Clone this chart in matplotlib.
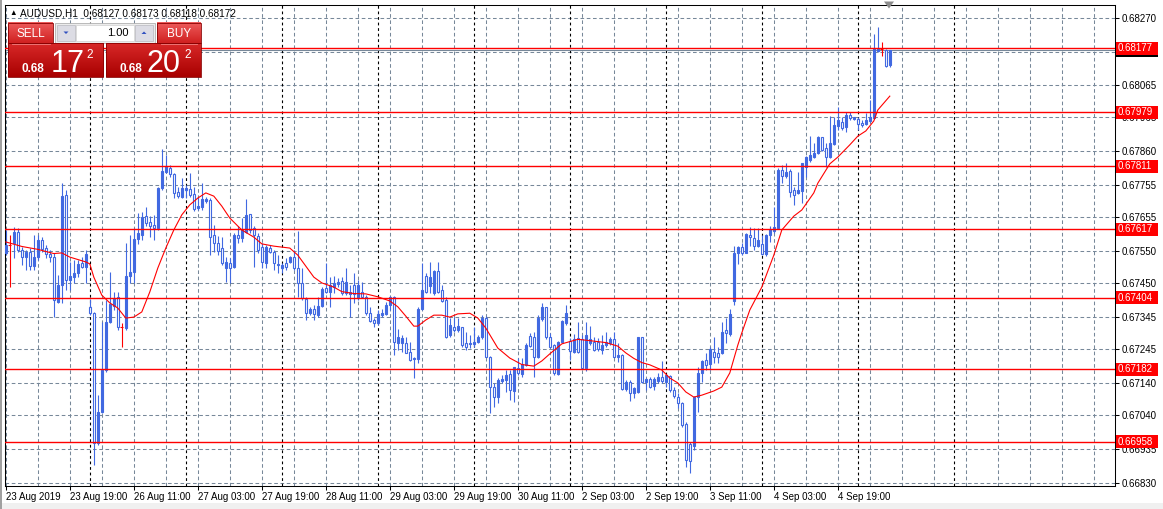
import matplotlib
matplotlib.use('Agg')
import matplotlib.pyplot as plt
import matplotlib.transforms as mtransforms
from matplotlib.patches import Rectangle, Polygon
from matplotlib.colors import LinearSegmentedColormap
import numpy as np

plt.rcParams['font.family'] = ['Liberation Sans', 'DejaVu Sans']

# AUDUSD H1 candles, 23 Aug 2019 03:00 .. 5 Sep 2019
opens = [
    0.67542, 0.67567, 0.67573, 0.67609, 0.67552, 0.67529, 0.67547, 0.67502, 0.67531, 0.67583,
    0.67557, 0.67540, 0.67531, 0.67392, 0.67443, 0.67722, 0.67459, 0.67469, 0.67480, 0.67513,
    0.67498, 0.67374, 0.67356, 0.66953, 0.67051, 0.67180, 0.67330, 0.67379, 0.67405, 0.67312,
    0.67309, 0.67471, 0.67485, 0.67585, 0.67598, 0.67657, 0.67640, 0.67630, 0.67621, 0.67743,
    0.67795, 0.67805, 0.67787, 0.67733, 0.67717, 0.67738, 0.67740, 0.67725, 0.67681, 0.67686,
    0.67705, 0.67707, 0.67598, 0.67573, 0.67557, 0.67496, 0.67513, 0.67498, 0.67598, 0.67588,
    0.67609, 0.67663, 0.67619, 0.67595, 0.67562, 0.67513, 0.67557, 0.67547, 0.67506, 0.67495,
    0.67513, 0.67516, 0.67531, 0.67495, 0.67449, 0.67399, 0.67356, 0.67368, 0.67350, 0.67378,
    0.67433, 0.67423, 0.67436, 0.67447, 0.67456, 0.67420, 0.67416, 0.67443, 0.67402, 0.67421,
    0.67407, 0.67356, 0.67335, 0.67325, 0.67350, 0.67354, 0.67382, 0.67405, 0.67265, 0.67265,
    0.67265, 0.67237, 0.67213, 0.67213, 0.67368, 0.67471, 0.67440, 0.67418, 0.67487, 0.67428,
    0.67397, 0.67288, 0.67314, 0.67304, 0.67312, 0.67265, 0.67261, 0.67261, 0.67268, 0.67281,
    0.67340, 0.67221, 0.67128, 0.67097, 0.67147, 0.67149, 0.67168, 0.67116, 0.67185, 0.67168,
    0.67196, 0.67285, 0.67281, 0.67219, 0.67337, 0.67374, 0.67281, 0.67258, 0.67168, 0.67268,
    0.67327, 0.67271, 0.67237, 0.67278, 0.67275, 0.67185, 0.67265, 0.67268, 0.67268, 0.67242,
    0.67258, 0.67265, 0.67275, 0.67219, 0.67226, 0.67120, 0.67144, 0.67108, 0.67113, 0.67281,
    0.67144, 0.67151, 0.67130, 0.67147, 0.67159, 0.67144, 0.67161, 0.67118, 0.67097, 0.67079,
    0.67013, 0.66951, 0.66944, 0.67097, 0.67170, 0.67211, 0.67199, 0.67237, 0.67234, 0.67232,
    0.67304, 0.67292, 0.67395, 0.67544, 0.67560, 0.67544, 0.67598, 0.67588, 0.67564, 0.67571,
    0.67540, 0.67598, 0.67612, 0.67619, 0.67800, 0.67781, 0.67798, 0.67738, 0.67730, 0.67736,
    0.67810, 0.67831, 0.67839, 0.67852, 0.67901, 0.67867, 0.67839, 0.67881, 0.67936, 0.67950,
    0.67932, 0.67970, 0.67957, 0.67957, 0.67945, 0.67943, 0.67953, 0.67960, 0.68170, 0.68174,
    0.68172, 0.68127,
]
highs = [
    0.67614, 0.67598, 0.67624, 0.67619, 0.67562, 0.67552, 0.67557, 0.67598, 0.67598, 0.67593,
    0.67567, 0.67552, 0.67542, 0.67474, 0.67761, 0.67738, 0.67516, 0.67521, 0.67521, 0.67531,
    0.67552, 0.67399, 0.67361, 0.67102, 0.67330, 0.67397, 0.67485, 0.67423, 0.67423, 0.67327,
    0.67573, 0.67598, 0.67619, 0.67666, 0.67671, 0.67686, 0.67657, 0.67661, 0.67748, 0.67864,
    0.67847, 0.67816, 0.67790, 0.67748, 0.67774, 0.67754, 0.67790, 0.67748, 0.67717, 0.67759,
    0.67717, 0.67712, 0.67630, 0.67595, 0.67593, 0.67531, 0.67526, 0.67604, 0.67626, 0.67650,
    0.67709, 0.67663, 0.67626, 0.67604, 0.67573, 0.67567, 0.67567, 0.67552, 0.67536, 0.67511,
    0.67526, 0.67533, 0.67552, 0.67612, 0.67495, 0.67407, 0.67376, 0.67382, 0.67407, 0.67438,
    0.67513, 0.67469, 0.67471, 0.67464, 0.67469, 0.67495, 0.67443, 0.67482, 0.67459, 0.67454,
    0.67413, 0.67376, 0.67340, 0.67366, 0.67368, 0.67392, 0.67409, 0.67409, 0.67306, 0.67288,
    0.67283, 0.67268, 0.67221, 0.67376, 0.67511, 0.67482, 0.67516, 0.67490, 0.67516, 0.67443,
    0.67407, 0.67340, 0.67345, 0.67341, 0.67314, 0.67299, 0.67288, 0.67314, 0.67288, 0.67350,
    0.67347, 0.67223, 0.67139, 0.67154, 0.67165, 0.67180, 0.67180, 0.67190, 0.67216, 0.67216,
    0.67263, 0.67296, 0.67299, 0.67350, 0.67389, 0.67376, 0.67294, 0.67261, 0.67271, 0.67335,
    0.67382, 0.67278, 0.67292, 0.67330, 0.67288, 0.67330, 0.67316, 0.67283, 0.67278, 0.67288,
    0.67299, 0.67283, 0.67299, 0.67263, 0.67230, 0.67149, 0.67149, 0.67128, 0.67283, 0.67283,
    0.67154, 0.67159, 0.67159, 0.67170, 0.67209, 0.67168, 0.67165, 0.67128, 0.67108, 0.67082,
    0.67020, 0.66958, 0.67099, 0.67190, 0.67211, 0.67232, 0.67250, 0.67281, 0.67252, 0.67330,
    0.67340, 0.67368, 0.67564, 0.67564, 0.67575, 0.67606, 0.67622, 0.67619, 0.67619, 0.67598,
    0.67602, 0.67626, 0.67686, 0.67805, 0.67816, 0.67821, 0.67802, 0.67746, 0.67795, 0.67823,
    0.67843, 0.67905, 0.67885, 0.67905, 0.67903, 0.67885, 0.67967, 0.67965, 0.67994, 0.67965,
    0.67981, 0.67981, 0.67965, 0.67963, 0.67955, 0.67978, 0.68017, 0.68222, 0.68244, 0.68198,
    0.68174, 0.68173,
]
lows = [
    0.67536, 0.67438, 0.67526, 0.67547, 0.67506, 0.67490, 0.67490, 0.67490, 0.67521, 0.67547,
    0.67526, 0.67516, 0.67345, 0.67387, 0.67387, 0.67428, 0.67428, 0.67449, 0.67469, 0.67495,
    0.67449, 0.67350, 0.66886, 0.66948, 0.67046, 0.67175, 0.67325, 0.67366, 0.67304, 0.67250,
    0.67304, 0.67449, 0.67449, 0.67571, 0.67583, 0.67626, 0.67593, 0.67583, 0.67614, 0.67738,
    0.67790, 0.67779, 0.67712, 0.67712, 0.67712, 0.67712, 0.67717, 0.67674, 0.67676, 0.67676,
    0.67697, 0.67536, 0.67547, 0.67536, 0.67506, 0.67453, 0.67449, 0.67495, 0.67573, 0.67578,
    0.67606, 0.67604, 0.67498, 0.67542, 0.67495, 0.67495, 0.67542, 0.67490, 0.67482, 0.67480,
    0.67490, 0.67511, 0.67490, 0.67407, 0.67397, 0.67335, 0.67350, 0.67335, 0.67345, 0.67376,
    0.67420, 0.67376, 0.67418, 0.67438, 0.67413, 0.67413, 0.67345, 0.67389, 0.67397, 0.67402,
    0.67350, 0.67330, 0.67314, 0.67320, 0.67345, 0.67350, 0.67366, 0.67226, 0.67242, 0.67237,
    0.67232, 0.67209, 0.67154, 0.67201, 0.67366, 0.67418, 0.67418, 0.67413, 0.67418, 0.67392,
    0.67278, 0.67283, 0.67299, 0.67298, 0.67252, 0.67242, 0.67247, 0.67252, 0.67263, 0.67275,
    0.67219, 0.67046, 0.67066, 0.67077, 0.67139, 0.67113, 0.67087, 0.67082, 0.67165, 0.67159,
    0.67192, 0.67252, 0.67159, 0.67216, 0.67333, 0.67275, 0.67247, 0.67165, 0.67165, 0.67263,
    0.67320, 0.67211, 0.67234, 0.67232, 0.67182, 0.67178, 0.67258, 0.67240, 0.67240, 0.67230,
    0.67252, 0.67258, 0.67219, 0.67206, 0.67118, 0.67116, 0.67085, 0.67092, 0.67108, 0.67139,
    0.67118, 0.67123, 0.67118, 0.67139, 0.67139, 0.67128, 0.67113, 0.67092, 0.67061, 0.67004,
    0.66880, 0.66862, 0.66932, 0.67051, 0.67144, 0.67180, 0.67180, 0.67201, 0.67201, 0.67230,
    0.67265, 0.67285, 0.67380, 0.67509, 0.67536, 0.67542, 0.67564, 0.67552, 0.67562, 0.67536,
    0.67533, 0.67578, 0.67604, 0.67616, 0.67761, 0.67774, 0.67717, 0.67692, 0.67726, 0.67699,
    0.67779, 0.67826, 0.67836, 0.67850, 0.67860, 0.67810, 0.67836, 0.67877, 0.67924, 0.67924,
    0.67919, 0.67955, 0.67955, 0.67924, 0.67934, 0.67940, 0.67950, 0.67957, 0.68167, 0.68153,
    0.68118, 0.68118,
]
closes = [
    0.67567, 0.67567, 0.67609, 0.67552, 0.67529, 0.67545, 0.67502, 0.67531, 0.67583, 0.67554,
    0.67540, 0.67529, 0.67397, 0.67443, 0.67719, 0.67459, 0.67471, 0.67480, 0.67509, 0.67498,
    0.67539, 0.67356, 0.66953, 0.67051, 0.67180, 0.67330, 0.67384, 0.67402, 0.67314, 0.67312,
    0.67471, 0.67485, 0.67585, 0.67604, 0.67655, 0.67637, 0.67626, 0.67621, 0.67743, 0.67797,
    0.67812, 0.67787, 0.67730, 0.67719, 0.67743, 0.67743, 0.67722, 0.67678, 0.67688, 0.67709,
    0.67709, 0.67593, 0.67573, 0.67550, 0.67511, 0.67515, 0.67495, 0.67598, 0.67588, 0.67616,
    0.67661, 0.67614, 0.67598, 0.67552, 0.67516, 0.67560, 0.67547, 0.67511, 0.67508, 0.67506,
    0.67500, 0.67531, 0.67495, 0.67449, 0.67402, 0.67356, 0.67368, 0.67354, 0.67378, 0.67430,
    0.67423, 0.67443, 0.67451, 0.67454, 0.67418, 0.67454, 0.67423, 0.67416, 0.67443, 0.67407,
    0.67356, 0.67333, 0.67327, 0.67354, 0.67358, 0.67382, 0.67405, 0.67268, 0.67283, 0.67280,
    0.67234, 0.67211, 0.67216, 0.67368, 0.67428, 0.67423, 0.67467, 0.67487, 0.67423, 0.67395,
    0.67283, 0.67320, 0.67304, 0.67316, 0.67258, 0.67252, 0.67265, 0.67268, 0.67281, 0.67340,
    0.67221, 0.67128, 0.67095, 0.67149, 0.67151, 0.67165, 0.67118, 0.67188, 0.67170, 0.67199,
    0.67258, 0.67254, 0.67219, 0.67340, 0.67374, 0.67281, 0.67252, 0.67170, 0.67268, 0.67333,
    0.67356, 0.67240, 0.67275, 0.67237, 0.67185, 0.67288, 0.67275, 0.67242, 0.67244, 0.67258,
    0.67268, 0.67275, 0.67221, 0.67226, 0.67120, 0.67144, 0.67108, 0.67123, 0.67281, 0.67144,
    0.67151, 0.67128, 0.67151, 0.67159, 0.67147, 0.67165, 0.67118, 0.67099, 0.67079, 0.67010,
    0.66901, 0.66899, 0.67097, 0.67170, 0.67209, 0.67196, 0.67244, 0.67221, 0.67221, 0.67299,
    0.67294, 0.67354, 0.67542, 0.67560, 0.67544, 0.67602, 0.67591, 0.67564, 0.67583, 0.67540,
    0.67598, 0.67616, 0.67624, 0.67800, 0.67781, 0.67795, 0.67733, 0.67722, 0.67738, 0.67821,
    0.67839, 0.67847, 0.67854, 0.67901, 0.67862, 0.67839, 0.67883, 0.67940, 0.67955, 0.67929,
    0.67970, 0.67960, 0.67963, 0.67943, 0.67940, 0.67955, 0.67963, 0.68177, 0.68177, 0.68174,
    0.68123, 0.68172,
]

# moving average (red line), read at these bar numbers
ma_bars = [0, 4, 8, 12, 14, 16, 20, 21, 22, 24, 26, 28, 30, 32, 34, 36, 38, 40, 42, 44,
           46, 48, 50, 52, 54, 56, 59, 62, 64, 67, 71, 73, 75, 77, 79, 82, 84, 87, 90, 93,
           96, 98, 100, 102, 103, 105, 107, 109, 111, 113, 116, 118, 120, 123, 126, 129, 132, 134, 136, 139,
           143, 146, 150, 153, 155, 157, 159, 161, 164, 166, 168, 170, 172, 174, 177, 179, 181, 183, 184, 186,
           189, 192, 194, 197, 199, 202, 203, 206, 208, 211, 213, 215, 217, 218, 221]
ma_values = [0.67577, 0.67563, 0.67554, 0.67541, 0.67543, 0.67530, 0.67515, 0.67509, 0.67468, 0.67412,
             0.67388, 0.67372, 0.67341, 0.67344, 0.67360, 0.67422, 0.67496, 0.67558, 0.67614, 0.67661,
             0.67692, 0.67713, 0.67729, 0.67719, 0.67688, 0.67651, 0.67614, 0.67592, 0.67571, 0.67564,
             0.67558, 0.67536, 0.67502, 0.67468, 0.67450, 0.67437, 0.67423, 0.67417, 0.67416, 0.67407,
             0.67394, 0.67376, 0.67347, 0.67316, 0.67316, 0.67335, 0.67350, 0.67350, 0.67344, 0.67354,
             0.67356, 0.67341, 0.67310, 0.67248, 0.67217, 0.67197, 0.67192, 0.67208, 0.67230, 0.67261,
             0.67275, 0.67271, 0.67265, 0.67254, 0.67233, 0.67216, 0.67203, 0.67196, 0.67180, 0.67155,
             0.67140, 0.67112, 0.67096, 0.67102, 0.67115, 0.67127, 0.67171, 0.67257, 0.67295, 0.67366,
             0.67437, 0.67536, 0.67614, 0.67657, 0.67676, 0.67729, 0.67759, 0.67819, 0.67840, 0.67878,
             0.67905, 0.67921, 0.67952, 0.67986, 0.68029]

levels = [0.68177, 0.67979, 0.67811, 0.67617, 0.67404, 0.67182, 0.66958]
bid = 0.68172
price_ticks = [0.68270, 0.68165, 0.68065, 0.67965, 0.67860, 0.67755, 0.67655, 0.67550,
               0.67450, 0.67345, 0.67245, 0.67140, 0.67040, 0.66935, 0.66830]
time_labels = ['23 Aug 2019', '23 Aug 19:00', '26 Aug 11:00', '27 Aug 03:00', '27 Aug 19:00',
               '28 Aug 11:00', '29 Aug 03:00', '29 Aug 19:00', '30 Aug 11:00', '2 Sep 03:00',
               '2 Sep 19:00', '3 Sep 11:00', '4 Sep 03:00', '4 Sep 19:00']
header = 'AUDUSD,H1  0.68127 0.68173 0.68118 0.68172'

W, H = 1163, 509
BLUE = '#4169E1'
GRID = '#778899'

fig = plt.figure(figsize=(W / 100, H / 100), dpi=100)
fig.patch.set_facecolor('white')

# chart frame in pixels, bar i sits at x = 5.8 + 4*i, price p at y = (0.68327 - p) / 0.000031
L, R, T, B = 4.5, 1114.5, 4.5, 485.5
ax = fig.add_axes([L / W, 1 - B / H, (R - L) / W, (B - T) / H])
ax.set_xlim((L - 5.8) / 4, (R - 5.8) / 4)
ax.set_ylim(0.68327 - 0.000031 * B, 0.68327 - 0.000031 * T)

# grid and day separators
for p in price_ticks:
    ax.axhline(p, color=GRID, lw=0.75, ls=(0, (3.5, 2.5)), zorder=0)
for b in range(0, 280, 8):
    ax.axvline(b, color=GRID, lw=0.75, ls=(0, (3.5, 2.5)), zorder=0)
for b in range(21, 240, 24):
    ax.axvline(b, color='black', lw=0.8, ls=(0, (2.5, 2.5)), zorder=0.5)

# candles
n = len(opens)
for i in range(n):
    o, h, l, c = opens[i], highs[i], lows[i], closes[i]
    if o == c:
        ax.vlines(i, l, h, color='red', lw=0.8, zorder=2)
        ax.hlines(o, i - 0.4, i + 0.4, color='red', lw=0.8, zorder=2)
        continue
    ax.vlines(i, l, h, color=BLUE, lw=0.8, zorder=2)
    ax.add_patch(Rectangle((i - 0.28, min(o, c)), 0.56, abs(c - o),
                           facecolor=BLUE if c > o else 'white',
                           edgecolor=BLUE, lw=0.8, zorder=3))

ax.plot(ma_bars, ma_values, color='red', lw=0.8, zorder=4)

ax.axhline(bid, color=GRID, lw=0.8, zorder=1)
for lv in levels:
    ax.axhline(lv, color='red', lw=1.0, zorder=4)

for s in ax.spines.values():
    s.set_color('black')
    s.set_linewidth(0.75)

# 0.68165 sits under the bid / level tags and is not readable there
ax.yaxis.tick_right()
ax.set_yticks(price_ticks)
ax.set_yticklabels(['' if p == 0.68165 else f'{p:.5f}' for p in price_ticks])
ax.tick_params(axis='y', length=3, width=0.75, pad=2, labelsize=7, colors='black')
ax.set_xticks(range(0, 16 * len(time_labels), 16))
ax.set_xticklabels(time_labels)
ax.tick_params(axis='x', length=3, width=0.75, pad=2, labelsize=7, colors='black')
for t in ax.get_xticklabels():
    t.set_ha('left')

# price tags on the right scale
trans = mtransforms.blended_transform_factory(fig.transFigure, ax.transData)
tag_h = 13 * 0.000031


def price_tag(p, color, label=True):
    ax.add_patch(Rectangle((1115.5 / W, p - tag_h / 2), (1158 - 1115.5) / W, tag_h,
                           transform=trans, facecolor=color, edgecolor='none',
                           clip_on=False, zorder=6))
    if label:
        ax.text(1118 / W, p, f'{p:.5f}', transform=trans, color='white', fontsize=7,
                va='center', ha='left', clip_on=False, zorder=7)


price_tag(bid, 'black', label=False)
for lv in levels:
    price_tag(lv, 'red')

# overlay in pixel coordinates: header and one-click panel
ov = fig.add_axes([0, 0, 1, 1], zorder=10)
ov.axis('off')


def grad_box(x0, y0, x1, y1, c_top, c_bot, edge='#8a0000'):
    cmap = LinearSegmentedColormap.from_list('g', [c_top, c_bot])
    ov.imshow(np.linspace(0, 1, 64).reshape(-1, 1), cmap=cmap, extent=(x0, x1, y1, y0),
              aspect='auto', interpolation='bilinear', zorder=1)
    ov.add_patch(Rectangle((x0, y0), x1 - x0, y1 - y0, facecolor='none',
                           edgecolor=edge, lw=0.6, zorder=2))


ov.text(9, 13.5, '\u25b2', fontsize=5.5, ha='left', va='center', color='black')
ov.text(20.5, 13.5, header, fontsize=7.2, ha='left', va='center', color='black')

# sell / buy tabs
grad_box(8, 23, 53, 43.3, '#ee5c5c', '#d02020')
grad_box(157, 23, 200.7, 43.3, '#ee5c5c', '#d02020')
ov.text(30.5, 33.5, 'SELL', color='white', fontsize=8.5, ha='center', va='center')
ov.text(179, 33.5, 'BUY', color='white', fontsize=8.5, ha='center', va='center')

# lot box
ov.add_patch(Rectangle((55, 23), 100, 20.3, facecolor='#ececec', edgecolor='#b0b0b0', lw=0.6, zorder=1))
ov.add_patch(Rectangle((57, 25), 18, 16, facecolor='#dcdce4', edgecolor='#b8b8c0', lw=0.5, zorder=2))
ov.add_patch(Rectangle((135, 25), 18, 16, facecolor='#dcdce4', edgecolor='#b8b8c0', lw=0.5, zorder=2))
ov.add_patch(Rectangle((76, 25), 58, 16, facecolor='white', edgecolor='#d0d0d0', lw=0.5, zorder=2))
ov.add_patch(Polygon([(63.5, 31.5), (68.5, 31.5), (66, 34)], closed=True, facecolor='#3050c0', zorder=3))
ov.add_patch(Polygon([(141.5, 34), (146.5, 34), (144, 31.5)], closed=True, facecolor='#3050c0', zorder=3))
ov.text(128.5, 33, '1.00', color='black', fontsize=8, ha='right', va='center', zorder=4)

# price blocks
grad_box(8, 43.3, 103.3, 77.3, '#d82828', '#a80000')
grad_box(106, 43.3, 200.7, 77.3, '#d82828', '#a80000')
ov.plot([12, 50], [43.6, 43.6], color='#f08080', lw=0.6, zorder=3)
ov.plot([161, 197], [43.6, 43.6], color='#f08080', lw=0.6, zorder=3)
ov.text(21, 71.5, '0.68', color='white', fontsize=8.5, fontweight='bold', ha='left', va='baseline', zorder=4)
ov.text(51, 72, '17', color='white', fontsize=22, ha='left', va='baseline', zorder=4)
ov.text(86.5, 57.5, '2', color='white', fontsize=8.5, ha='left', va='baseline', zorder=4)
ov.text(119.5, 71.5, '0.68', color='white', fontsize=8.5, fontweight='bold', ha='left', va='baseline', zorder=4)
ov.text(147, 72, '20', color='white', fontsize=22, ha='left', va='baseline', zorder=4)
ov.text(184.5, 57.5, '2', color='white', fontsize=8.5, ha='left', va='baseline', zorder=4)

# chart shift marker
ov.add_patch(Polygon([(884, 1.5), (894, 1.5), (889, 8.5)], closed=True, facecolor='#8c8c8c', zorder=3))

# window edges
ov.add_patch(Rectangle((0, 503), W, 6, facecolor='#f0f0f0', edgecolor='none', zorder=0))
ov.add_patch(Rectangle((0, 0), 1.5, H, facecolor='#a0a0a0', edgecolor='none', zorder=0))

ov.set_xlim(0, W)
ov.set_ylim(H, 0)

fig.savefig('out.png', dpi=100)
